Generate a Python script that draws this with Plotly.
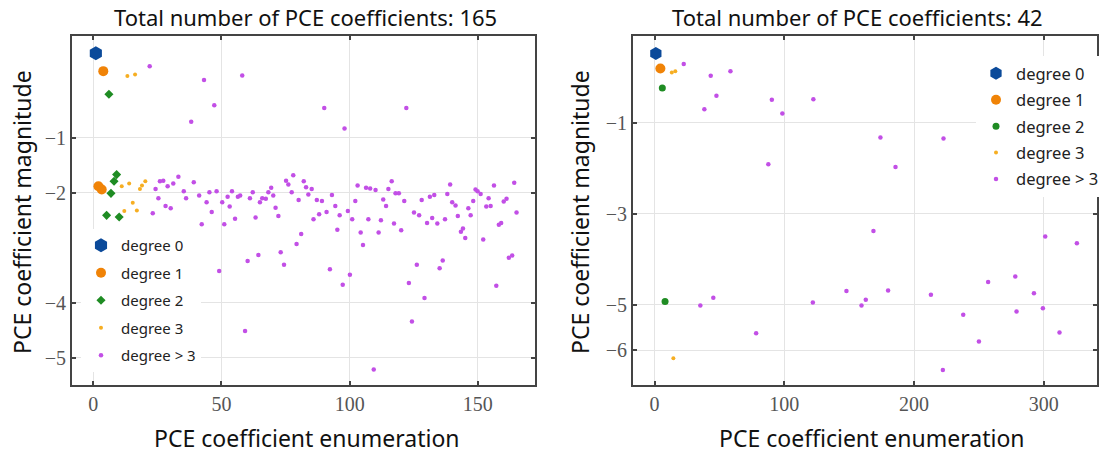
import plotly.graph_objects as go

# ---------------- data (exponent of coefficient magnitude) ----------------
left_title = "Total number of PCE coefficients: 165"
right_title = "Total number of PCE coefficients: 42"
series_names = ["degree 0", "degree 1", "degree 2", "degree 3", "degree > 3"]

L_d0_x = [1]
L_d0_y = [0.535]
L_d1_x = [3.9, 2.0, 3.3]
L_d1_y = [0.21, -1.88, -1.94]
L_d2_x = [6.1, 9.1, 8.1, 6.9, 5.2, 10.1]
L_d2_y = [-0.21, -1.67, -1.79, -2.01, -2.41, -2.44]
L_d3_x = [13.3, 16.3, 11.1, 14.0, 18.2, 19.0, 20.3, 15.4, 12.1, 17.0]
L_d3_y = [0.12, 0.15, -1.88, -1.83, -1.93, -1.87, -1.79, -2.18, -2.33, -2.32]
L_dh_x = [22, 23.2, 24.3, 25.4, 26, 27.3, 28.2, 29, 30.2, 31.2, 33.2, 35.3, 36.2, 38.2, 39.2,
          40.1, 41.3, 42.3, 43.2, 44.2, 45.3, 46.2, 47.2, 48.1, 49.1, 50.3, 51.1, 52.4, 53.2,
          54.1, 55.3, 56.4, 57.3, 58.1, 59.2, 60.2, 61.1, 62.2, 63.3, 64.4, 65, 65.9, 67.3,
          68.3, 69.4, 70.2, 71.1, 72.2, 73.1, 74.4, 75.2, 76.1, 77.4, 78, 79.3, 80.1, 81.1,
          82.1, 83, 83.9, 85.2, 85.9, 87.2, 88.1, 89.2, 90.1, 91, 92.3, 93.1, 94.4, 95.2, 96.1,
          97.3, 98.0, 99.3, 100.1, 101, 102.2, 103.1, 104.3, 105.2, 106.4, 107.3, 108, 109.4,
          110.1, 111.3, 112.2, 113.1, 114.2, 115.1, 116.4, 117.3, 117.9, 119.2, 120.1, 121.3,
          122.1, 123.1, 124.3, 125.1, 126.2, 127.1, 128.1, 129.2, 130.2, 131.3, 132.2, 133,
          134.2, 135.1, 136.3, 137.2, 138.1, 139.2, 140, 141.3, 142.2, 143.4, 144.2, 145.1,
          146.3, 147.2, 148.2, 149.1, 149.9, 151.1, 152.1, 153.3, 154.2, 155, 156.3, 157.2,
          158.2, 159.1, 160.1, 161.2, 162.1, 163.4, 164.2, 165.1]
L_dh_y = [0.30, -2.37, -1.93, -2.10, -1.79, -1.78, -2.24, -1.88, -2.28, -1.83, -1.71, -1.97,
          -2.10, -0.71, -1.81, -2.96, -2.05, -2.57, 0.05, -2.17, -1.99, -2.35, -0.41, -1.97,
          -3.42, -2.17, -2.57, -2.07, -2.25, -1.97, -2.47, -2.07, -2.05, 0.13, -4.51, -3.24,
          -2.10, -1.99, -2.45, -3.13, -2.17, -2.10, -2.11, -1.99, -1.91, -2.05, -2.27, -2.42,
          -3.08, -3.31, -1.78, -1.85, -1.99, -1.68, -2.93, -2.13, -2.75, -1.79, -1.90, -2.03,
          -1.93, -2.48, -2.13, -2.39, -2.15, -0.46, -2.35, -3.39, -2.04, -2.24, -2.67, -2.41,
          -3.67, -0.83, -2.33, -3.49, -2.48, -2.15, -1.87, -2.72, -2.95, -1.91, -2.48, -1.92,
          -5.21, -1.95, -2.72, -2.50, -2.12, -2.24, -1.93, -1.79, -2.56, -2.01, -2.01, -2.68,
          -2.15, -0.46, -3.64, -4.34, -2.36, -3.31, -2.41, -2.13, -3.91, -2.55, -2.07, -2.46,
          -2.04, -2.56, -3.37, -3.23, -2.48, -2.02, -1.85, -2.17, -2.23, -2.42, -2.71, -2.65,
          -2.82, -2.28, -2.41, -2.15, -1.94, -1.97, -2.02, -2.85, -2.25, -2.10, -2.24, -1.87,
          -3.69, -2.58, -2.55, -2.16, -2.11, -3.18, -3.14, -1.82, -2.36]

R_d0_x = [1]
R_d0_y = [0.53]
R_d1_x = [4.5]
R_d1_y = [0.20]
R_d2_x = [6.0, 8.1]
R_d2_y = [-0.23, -4.93]
R_d3_x = [13.3, 16.0, 14.5]
R_d3_y = [0.11, 0.14, -6.18]
R_dh_x = [22.5, 35.3, 38.4, 43.3, 45.3, 47.7, 58.5, 78.3, 87.7, 90.4, 98.5, 122.0, 122.4,
          147.9, 159.5, 162.8, 168.7, 174.1, 180.0, 185.7, 213.0, 222.2, 222.7, 237.9, 250.0,
          257.1, 278.0, 279.0, 289.0, 292.4, 299.3, 301.1, 312.1, 325.5]
R_dh_y = [0.30, -5.02, -0.70, 0.04, -4.85, -0.40, 0.14, -5.63, -1.91, -0.49, -0.79, -4.95,
          -0.48, -4.70, -5.02, -4.89, -3.38, -1.32, -4.69, -1.97, -4.78, -6.44, -1.34, -5.22,
          -5.81, -4.50, -4.38, -5.15, -2.53, -4.75, -5.08, -3.50, -5.61, -3.65]

L_xticks = [0, 50, 100, 150]
L_yticks = [-1, -2, -4, -5]
R_xticks = [0, 100, 200, 300]
R_yticks = [-1, -3, -5, -6]

# ---------------- styling ----------------
W, H = 1104, 457
colors = ["#0b4a9a", "#f08307", "#1f8c23", "#f6ae22", "#c24fe6"]
L_sizes = [14, 10, 7, 4, 4.5]
R_sizes = [13, 10, 7, 4, 4.5]
L_symbols = ["hexagon", "circle", "diamond", "circle", "circle"]
R_symbols = ["hexagon", "circle", "circle", "circle", "circle"]

fig = go.Figure()

left_sets = [(L_d0_x, L_d0_y), (L_d1_x, L_d1_y), (L_d2_x, L_d2_y), (L_d3_x, L_d3_y), (L_dh_x, L_dh_y)]
right_sets = [(R_d0_x, R_d0_y), (R_d1_x, R_d1_y), (R_d2_x, R_d2_y), (R_d3_x, R_d3_y), (R_dh_x, R_dh_y)]

order = [4, 3, 2, 1, 0]  # draw high degree first so low degree on top
for i in order:
    xs, ys = left_sets[i]
    fig.add_trace(go.Scatter(x=xs, y=ys, mode="markers", name=series_names[i],
                             xaxis="x", yaxis="y", legend="legend", legendgroup="L%d" % i,
                             legendrank=i + 1,
                             marker=dict(color=colors[i], size=L_sizes[i], symbol=L_symbols[i],
                                         line=dict(width=0))))
for i in order:
    xs, ys = right_sets[i]
    fig.add_trace(go.Scatter(x=xs, y=ys, mode="markers", name=series_names[i],
                             xaxis="x2", yaxis="y2", legend="legend2", legendgroup="R%d" % i,
                             legendrank=i + 1,
                             marker=dict(color=colors[i], size=R_sizes[i], symbol=R_symbols[i],
                                         line=dict(width=0))))

def px_x(p):
    return p / W

def px_y(p):
    return 1 - p / H

tickfont = dict(family="Liberation Serif", size=20, color="#555555")
axis_common = dict(showgrid=True, gridcolor="#e4e4e4", gridwidth=1.3, zeroline=False,
                   showline=True, linecolor="#444444", linewidth=2, mirror="ticks",
                   ticks="inside", ticklen=4, tickwidth=1.5, tickcolor="#444444",
                   tickfont=tickfont)

ydom = [px_y(384.5), px_y(36)]
fig.update_layout(
    width=W, height=H, margin=dict(l=0, r=0, t=0, b=0, autoexpand=False),
    paper_bgcolor="white", plot_bgcolor="white",
    xaxis=dict(domain=[px_x(72), px_x(535)], range=[-8.3, 172.3], tickvals=L_xticks,
               anchor="y", **axis_common),
    yaxis=dict(domain=ydom, range=[-5.484, 0.849], tickvals=L_yticks, anchor="x", **axis_common),
    xaxis2=dict(domain=[px_x(633), px_x(1097)], range=[-16.6, 341], tickvals=R_xticks,
                anchor="y2", **axis_common),
    yaxis2=dict(domain=ydom, range=[-6.757, 0.914], tickvals=R_yticks, anchor="x2", **axis_common),
    showlegend=True,
    legend=dict(x=px_x(81), y=px_y(229), xanchor="left", yanchor="top", bgcolor="white",
                borderwidth=0, font=dict(family="Noto Sans", size=15, color="#222222"),
                tracegroupgap=5, itemsizing="trace", traceorder="grouped"),
    legend2=dict(x=px_x(1104), y=px_y(56), xanchor="right", yanchor="top", bgcolor="white",
                 borderwidth=0, font=dict(family="Noto Sans", size=16.5, color="#222222"),
                 tracegroupgap=2, itemsizing="trace", traceorder="grouped"),
)

title_font = dict(family="Noto Sans", size=22, color="#111111")
label_font = dict(family="Noto Sans", size=23, color="#111111")
annos = [
    dict(text=left_title, x=px_x(305), y=px_y(17), font=title_font),
    dict(text=right_title, x=px_x(857), y=px_y(17), font=title_font),
    dict(text="PCE coefficient enumeration", x=px_x(307), y=px_y(438), font=label_font),
    dict(text="PCE coefficient enumeration", x=px_x(872), y=px_y(438), font=label_font),
    dict(text="PCE coefficient magnitude", x=px_x(22), y=px_y(212), font=label_font, textangle=-90),
    dict(text="PCE coefficient magnitude", x=px_x(580), y=px_y(212), font=label_font, textangle=-90),
]
for a in annos:
    fig.add_annotation(xref="paper", yref="paper", showarrow=False, xanchor="center",
                       yanchor="middle", **a)

fig.write_html("out.html", config={"responsive": False},
               post_script="document.body.style.margin='0';document.body.style.overflow='hidden';")
